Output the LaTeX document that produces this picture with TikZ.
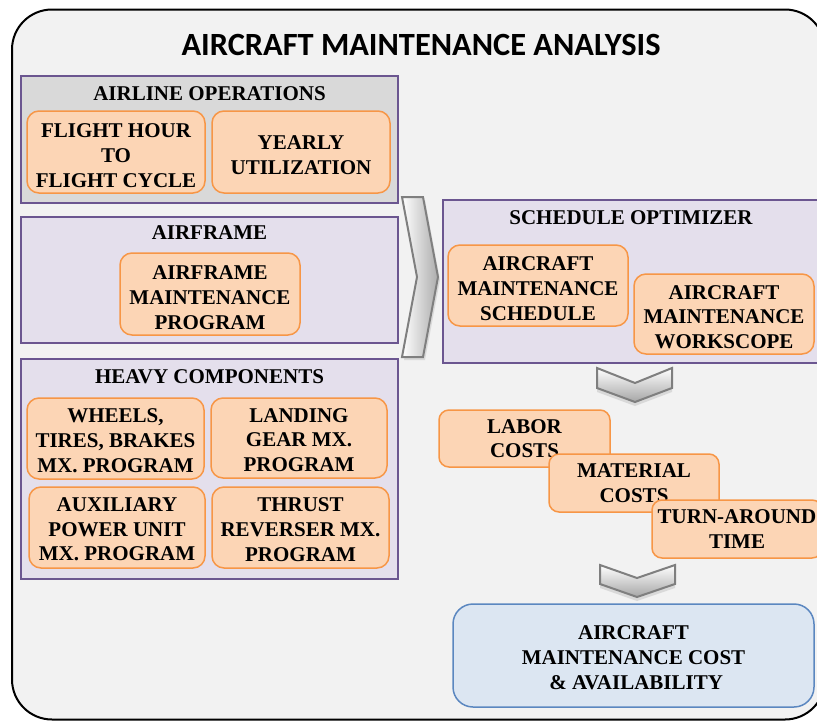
\documentclass[tikz,border=0pt]{standalone}
\usepackage{fontspec}
\setmainfont{Liberation Serif}
\newfontfamily\titlefont{Carlito}
\definecolor{bgc}{HTML}{F2F2F2}
\definecolor{grayfill}{HTML}{D9D9D9}
\definecolor{lav}{HTML}{E4DFEC}
\definecolor{purp}{HTML}{6B5690}
\definecolor{peach}{HTML}{FCD5B5}
\definecolor{orng}{HTML}{F79646}
\definecolor{lblue}{HTML}{DCE6F2}
\definecolor{bblue}{HTML}{5B87C0}
\definecolor{chev}{HTML}{7F7F7F}
\tikzset{
  txt/.style={font=\bfseries\fontsize{21}{24.7}\selectfont, align=center, inner sep=0pt},
  groupbox/.style={draw=purp, line width=1.5pt, fill=lav, inner sep=0pt},
  itembox/.style={draw=orng, line width=1.5pt, fill=peach, rounded corners=12pt, inner sep=0pt},
  costbox/.style={txt, draw=orng, line width=1.5pt, fill=peach, rounded corners=10pt},
  resultbox/.style={draw=bblue, line width=1.5pt, fill=lblue, rounded corners=20pt, inner sep=0pt},
  chevshape/.style={draw=chev, line width=2pt, line join=miter},
  chevshadow/.style={fill=gray!45, opacity=0.55},
}
\begin{document}
\begin{tikzpicture}[x=1pt,y=-1pt]
\useasboundingbox (0,0) rectangle (817,721);
% outer frame
\draw[line width=2pt, fill=bgc, rounded corners=40pt] (12,9.5) rectangle (825,719.5);
\node[font=\titlefont\bfseries\fontsize{32.4}{36}\selectfont, inner sep=0pt] (title) at (421,45) {AIRCRAFT MAINTENANCE ANALYSIS};

% airline operations
\node[groupbox, fill=grayfill, minimum width=377, minimum height=127] (ops) at (209.5,139.5) {};
\node[txt] (opst) at (209.5,93.5) {AIRLINE OPERATIONS};
\node[itembox, minimum width=178, minimum height=82] (fh) at (116,152) {};
\node[txt] (fht) at ([yshift=-3.5pt]fh.center) {FLIGHT HOUR\\TO\\FLIGHT CYCLE};
\node[itembox, minimum width=178, minimum height=82] (yu) at (301,152) {};
\node[txt] (yut) at ([yshift=-3.5pt]yu.center) {YEARLY\\UTILIZATION};

% airframe
\node[groupbox, minimum width=377, minimum height=126] (afr) at (209.5,280) {};
\node[txt] (afrt) at (209.5,233) {AIRFRAME};
\node[itembox, minimum width=180, minimum height=82] (afm) at (210,294) {};
\node[txt] (afmt) at ([yshift=-3.5pt]afm.center) {AIRFRAME\\MAINTENANCE\\PROGRAM};

% heavy components
\node[groupbox, minimum width=377, minimum height=220] (hc) at (209.5,469) {};
\node[txt] (hct) at (209.5,376.5) {HEAVY COMPONENTS};
\node[itembox, minimum width=177, minimum height=81] (wtb) at (115.5,438.5) {};
\node[txt] (wtbt) at ([yshift=-2pt]wtb.center) {WHEELS,\\TIRES, BRAKES\\MX. PROGRAM};
\node[itembox, minimum width=176, minimum height=80] (lg) at (299,438) {};
\node[txt] (lgt) at ([yshift=-2pt]lg.center) {LANDING\\GEAR MX.\\PROGRAM};
\node[itembox, minimum width=176, minimum height=81] (apu) at (117,527.5) {};
\node[txt] (aput) at ([yshift=-2pt]apu.center) {AUXILIARY\\POWER UNIT\\MX. PROGRAM};
\node[itembox, minimum width=177, minimum height=81] (tr) at (300.5,527.5) {};
\node[txt] (trt) at ([yshift=-2pt]tr.center) {THRUST\\REVERSER MX.\\PROGRAM};

% big chevron
\fill[chevshadow] (404,200) -- (425,200) -- (440,280) -- (425,360) -- (404,360) -- (419,280) -- cycle;
\draw[chevshape, left color=white, right color=gray!65] (402,197) -- (423,197) -- (438,277) -- (423,357) -- (402,357) -- (417,277) -- cycle;

% schedule optimizer
\node[groupbox, minimum width=376, minimum height=163] (so) at (631,281.5) {};
\node[txt] (sot) at (631,217.5) {SCHEDULE OPTIMIZER};
\node[itembox, minimum width=180, minimum height=81] (ams) at (538,285.5) {};
\node[txt] (amst) at ([yshift=-3pt]ams.center) {AIRCRAFT\\MAINTENANCE\\SCHEDULE};
\node[itembox, minimum width=180, minimum height=80] (amw) at (724,314) {};
\node[txt] (amwt) at ([yshift=-3pt]amw.center) {AIRCRAFT\\MAINTENANCE\\WORKSCOPE};

% small chevron 1
\fill[chevshadow] (597,372) -- (635,387) -- (672,372) -- (672,392) -- (635,406) -- (597,392) -- cycle;
\draw[chevshape, top color=white, bottom color=gray!70] (597,368) -- (635,383) -- (672,368) -- (672,388) -- (635,402) -- (597,388) -- cycle;

% cost boxes
\node[costbox, minimum width=171, minimum height=57] (lab) at (524.5,438.5) {LABOR\\COSTS};
\node[costbox, minimum width=170, minimum height=58] (mat) at (634,483) {MATERIAL\\COSTS};
\node[costbox, minimum width=170, minimum height=58] (tat) at (737,529) {TURN-AROUND\\TIME};

% small chevron 2
\fill[chevshadow] (600,569) -- (637,582) -- (675,569) -- (675,588) -- (637,601) -- (600,588) -- cycle;
\draw[chevshape, top color=white, bottom color=gray!70] (600,565) -- (637,578) -- (675,565) -- (675,584) -- (637,597) -- (600,584) -- cycle;

% result
\node[resultbox, minimum width=361, minimum height=103] (res) at (633.5,655.5) {};
\node[txt] (rest) at ([yshift=-2pt]res.center) {AIRCRAFT\\MAINTENANCE COST\\\ \& AVAILABILITY};
\end{tikzpicture}
\end{document}
